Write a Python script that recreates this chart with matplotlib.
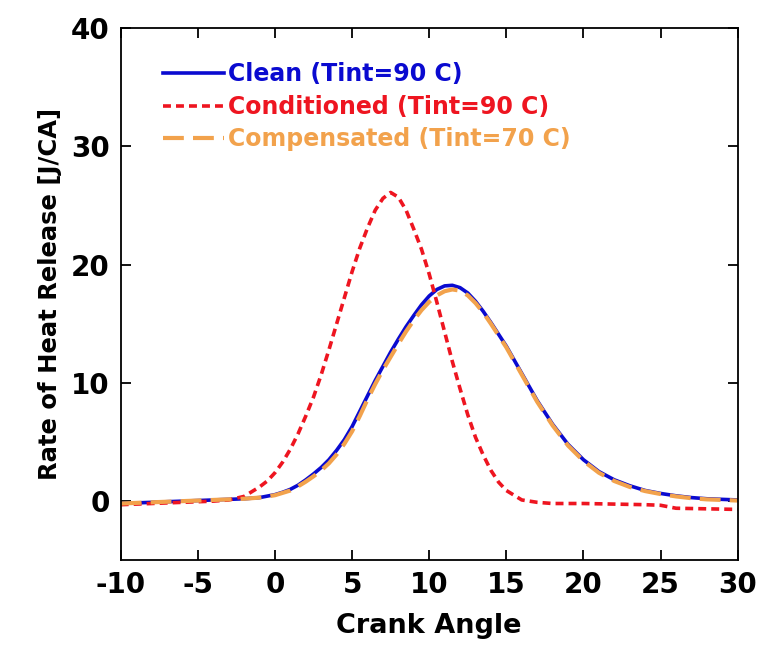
import matplotlib
matplotlib.use("Agg")
import matplotlib.pyplot as plt

plt.rcParams['font.family'] = ['DejaVu Sans']
plt.rcParams['font.weight'] = 'bold'
plt.rcParams['axes.unicode_minus'] = False

# crank angle [deg] and heat release rate [J/CA] for each case
ca_clean = [-10, -8, -6, -4, -2, -1, 0, 0.5, 1, 1.5, 2, 2.5, 3, 3.5, 4, 4.5, 5, 5.5, 6, 6.5, 7, 7.5, 8, 8.5, 9, 9.5,
            10, 10.5, 11, 11.5, 12, 12.5, 13, 13.5, 14, 15, 16, 17, 18, 19, 20, 21, 22, 23, 24, 25, 26, 27, 28, 29, 30]
hr_clean = [-0.2, -0.1, 0.0, 0.1, 0.2, 0.3, 0.55, 0.75, 1.0, 1.35, 1.8, 2.3, 2.85, 3.5, 4.3, 5.2, 6.3, 7.6, 8.9, 10.2, 11.4, 12.6, 13.7, 14.75, 15.7, 16.6,
            17.35, 17.9, 18.2, 18.25, 18.05, 17.6, 16.9, 16.05, 15.1, 13.1, 10.8, 8.5, 6.5, 4.8, 3.5, 2.5, 1.8, 1.3, 0.9, 0.65, 0.45, 0.3, 0.2, 0.15, 0.1]

ca_cond = [-10, -8, -6, -4, -3, -2, -1, -0.5, 0, 0.5, 1, 1.5, 2, 2.5, 3, 3.5, 4, 4.5, 5, 5.5, 6, 6.5, 7, 7.5, 8, 8.5, 9, 9.5,
           10, 10.5, 11, 11.5, 12, 12.5, 13, 13.5, 14, 14.5, 15, 16, 17, 18, 20, 22, 24, 25, 26, 28, 30]
hr_cond = [-0.3, -0.2, -0.1, 0.0, 0.1, 0.4, 1.2, 1.7, 2.4, 3.3, 4.4, 5.7, 7.2, 8.8, 10.7, 12.8, 15.0, 17.2, 19.4, 21.4, 23.1, 24.6, 25.6, 26.1, 25.7, 24.6, 23.0, 21.3,
           19.2, 16.8, 14.3, 11.8, 9.5, 7.3, 5.4, 3.9, 2.6, 1.6, 0.9, 0.1, -0.1, -0.2, -0.2, -0.25, -0.3, -0.35, -0.6, -0.65, -0.7]

ca_comp = [-10, -8, -6, -4, -2, -1, 0, 0.5, 1, 1.5, 2, 2.5, 3, 3.5, 4, 4.5, 5, 5.5, 6, 6.5, 7, 7.5, 8, 8.5, 9, 9.5,
           10, 10.5, 11, 11.5, 12, 12.5, 13, 13.5, 14, 15, 16, 17, 18, 19, 20, 21, 22, 23, 24, 25, 26, 27, 28, 29, 30]
hr_comp = [-0.2, -0.1, 0.0, 0.1, 0.2, 0.3, 0.5, 0.7, 0.9, 1.25, 1.65, 2.1, 2.6, 3.2, 3.95, 4.85, 5.9, 7.2, 8.6, 9.9, 11.1, 12.2, 13.3, 14.35, 15.3, 16.15,
            16.85, 17.4, 17.75, 17.9, 17.8, 17.4, 16.75, 15.95, 15.0, 13.0, 10.7, 8.4, 6.4, 4.7, 3.4, 2.4, 1.7, 1.2, 0.85, 0.6, 0.4, 0.25, 0.15, 0.1, 0.05]

labels = ['Clean (Tint=90 C)', 'Conditioned (Tint=90 C)', 'Compensated (Tint=70 C)']

fig = plt.figure(figsize=(7.59, 6.53), dpi=100)
ax = fig.add_axes([0.159, 0.142, 0.813, 0.815])

ax.plot(ca_clean, hr_clean, color='#0a0ad0', lw=2.6, label=labels[0])
ax.plot(ca_cond, hr_cond, color='#ee1520', lw=2.6, dashes=(2.2, 1.4), label=labels[1])
ax.plot(ca_comp, hr_comp, color='#f2a24c', lw=3.0, dashes=(5, 2.2), label=labels[2])

ax.set_xlim(-10, 30)
ax.set_ylim(-5, 40)
ax.set_xticks(range(-10, 31, 5))
ax.set_yticks([0, 10, 20, 30, 40])
ax.tick_params(direction='in', length=7, width=1.3, top=True, right=True,
               labelsize=20, pad=8)
for lbl in ax.get_xticklabels() + ax.get_yticklabels():
    lbl.set_fontweight('bold')
for sp in ax.spines.values():
    sp.set_linewidth(1.3)

ax.set_xlabel('Crank Angle', fontsize=19.5, fontweight='bold', labelpad=10)
ax.set_ylabel('Rate of Heat Release [J/CA]', fontsize=17.5, fontweight='bold', labelpad=6)

leg = ax.legend(loc='upper left', bbox_to_anchor=(0.045, 0.962), frameon=False,
                fontsize=17, handlelength=2.6, handletextpad=0.15, labelspacing=0.36,
                labelcolor='linecolor', borderaxespad=0.2)
for t in leg.get_texts():
    t.set_fontweight('bold')

fig.savefig('out.png', dpi=100)
